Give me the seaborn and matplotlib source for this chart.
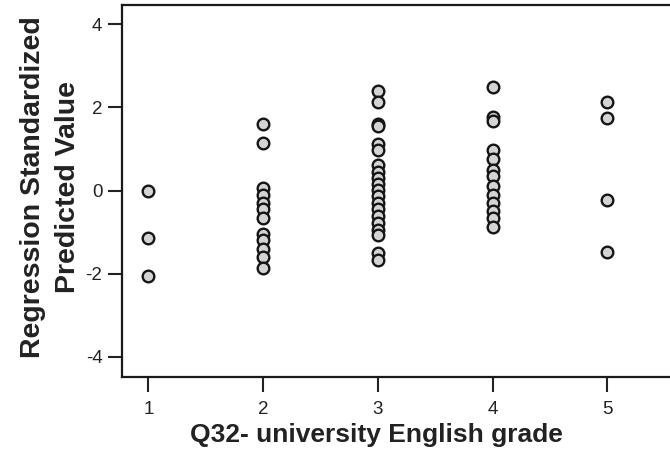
import matplotlib
matplotlib.use("Agg")
import matplotlib.pyplot as plt
import seaborn as sns
import pandas as pd

# Data
grade_1 = [0.0, -1.15, -2.05]
grade_2 = [1.61, 1.15, 0.05, -0.1, -0.3, -0.45, -0.65, -1.05, -1.2, -1.4, -1.6, -1.85]
grade_3 = [2.40, 2.12, 1.60, 1.55, 1.12, 0.97, 0.62, 0.45, 0.30, 0.15, 0.02, -0.12,
           -0.30, -0.45, -0.62, -0.78, -0.95, -1.08, -1.50, -1.66]
grade_4 = [2.50, 1.78, 1.68, 0.97, 0.75, 0.50, 0.34, 0.10, -0.10, -0.30, -0.50, -0.65, -0.88]
grade_5 = [2.12, 1.75, -0.22, -1.48]

x_ticks = [1, 2, 3, 4, 5]
y_ticks = [-4, -2, 0, 2, 4]
x_label = "Q32- university English grade"
y_label = "Regression Standardized\nPredicted Value"

rows = []
for g, vals in zip(x_ticks, [grade_1, grade_2, grade_3, grade_4, grade_5]):
    for v in vals:
        rows.append({"grade": g, "pred": v})
df = pd.DataFrame(rows)

sns.set_style("ticks")
plt.rcParams['font.family'] = ['Liberation Sans', 'DejaVu Sans']
plt.rcParams['axes.unicode_minus'] = False

fig = plt.figure(figsize=(6.7, 4.58), dpi=100)
ax = fig.add_axes([0.182, 0.177, 0.822, 0.812])

sns.scatterplot(data=df, x="grade", y="pred", ax=ax, s=70,
                color="#d4d4d4", edgecolor="#151515", linewidth=1.7, zorder=3)

ax.set_xlim(0.77, 5.57)
ax.set_ylim(-4.48, 4.46)
ax.set_xticks(x_ticks)
ax.set_yticks(y_ticks)
ax.tick_params(axis='both', direction='out', length=10, width=1.5, colors='#222222',
               labelsize=13.5, pad=4)
ax.tick_params(axis='x', length=11, pad=6)
for sp in ax.spines.values():
    sp.set_linewidth(1.6)
    sp.set_color('#1a1a1a')

ax.set_xlabel(x_label, fontsize=19, fontweight='bold', color='#222222')
ax.xaxis.set_label_coords(0.462, -0.125)
ax.set_ylabel(y_label, fontsize=20.5, fontweight='bold', color='#222222',
              linespacing=1.45)
ax.yaxis.set_label_coords(-0.075, 0.51)

fig.savefig("out.png", dpi=100)
